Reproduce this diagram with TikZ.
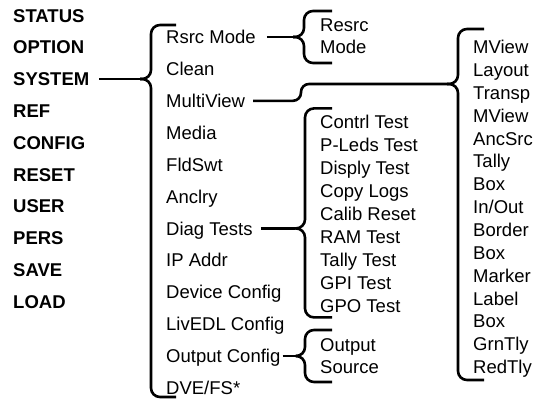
\documentclass[tikz,border=0pt]{standalone}
\usepackage{fontspec}
\setmainfont{Liberation Sans}
\usetikzlibrary{calc}
\def\menubrace[#1](#2)(#3:#4:#5:#6){\draw[#1] ($(#2)+(#6,#4)$) -- ($(#2)+(#3,#4)$) -- ($(#2)+(#3,0)$) -- (#2); \draw[#1] ($(#2)+(#6,#5)$) -- ($(#2)+(#3,#5)$) -- ($(#2)+(#3,0)$) -- (#2);}
\tikzset{
  topitem/.style={anchor=west, inner sep=0pt, text height=13.2pt, text depth=0pt, font=\fontsize{18.5}{22}\selectfont\bfseries},
  menuitem/.style={anchor=west, inner sep=0pt, text height=13.2pt, text depth=0pt, font=\fontsize{18.5}{22}\selectfont},
  link/.style={line width=2.6pt},
  brc/.style={line width=2.6pt, rounded corners=9pt}
}

\begin{document}
\begin{tikzpicture}[x=1pt, y=-1pt]
			%%%%% START %%%%%
			\useasboundingbox (0,0) rectangle (542,402);
			
			\node[topitem] (status) at (13, 15.5) {STATUS};
			\node[topitem] (option) at (13, 47.3) {OPTION};
			\node[topitem] (system) at (13, 79) {SYSTEM};
			\node[topitem] (ref) at (13, 110.8) {REF};
			\node[topitem] (config) at (13, 142.6) {CONFIG};
			\node[topitem] (reset) at (13, 174.4) {RESET};
			\node[topitem] (user) at (13, 206.2) {USER};
			\node[topitem] (pers) at (13, 238) {PERS};
			\node[topitem] (save) at (13, 269.8) {SAVE};
			\node[topitem] (load) at (13, 301.6) {LOAD};
			
			\node[menuitem] (rsrcmode) at (166, 37) {Rsrc Mode};
			\node[menuitem] (clean) at (166, 68.9) {Clean};
			\node[menuitem] (multiview) at (166, 100.8) {MultiView};
			\node[menuitem] (media) at (166, 132.7) {Media};
			\node[menuitem] (fldswt) at (166, 164.6) {FldSwt};
			\node[menuitem] (anclry) at (166, 196.5) {Anclry};
			\node[menuitem] (diagtests) at (166, 228.4) {Diag Tests};
			\node[menuitem] (ipaddr) at (166, 260.3) {IP Addr};
			\node[menuitem] (devconfig) at (166, 292.2) {Device Config};
			\node[menuitem] (livedl) at (166, 324.1) {LivEDL Config};
			\node[menuitem] (outconfig) at (166, 356) {Output Config};
			\node[menuitem] (dvefs) at (166, 387.9) {DVE/FS*};
			
			\node[menuitem] (resrc) at (320, 25) {Resrc};
			\node[menuitem] (resrcmode) at (320, 47) {Mode};
			
			\node[menuitem] (contrl) at (320, 122) {Contrl Test};
			\node[menuitem] (pleds) at (320, 145) {P-Leds Test};
			\node[menuitem] (disply) at (320, 168) {Disply Test};
			\node[menuitem] (copylogs) at (320, 191) {Copy Logs};
			\node[menuitem] (calib) at (320, 214) {Calib Reset};
			\node[menuitem] (ramtest) at (320, 237) {RAM Test};
			\node[menuitem] (tallytest) at (320, 260) {Tally Test};
			\node[menuitem] (gpitest) at (320, 283) {GPI Test};
			\node[menuitem] (gpotest) at (320, 306) {GPO Test};
			
			\node[menuitem] (output) at (320, 345) {Output};
			\node[menuitem] (source) at (320, 367) {Source};
			
			\node[menuitem] (mview) at (473, 47) {MView};
			\node[menuitem] (layout) at (473, 69.9) {Layout};
			\node[menuitem] (transp) at (473, 92.7) {Transp};
			\node[menuitem] (mview2) at (473, 115.6) {MView};
			\node[menuitem] (ancsrc) at (473, 138.4) {AncSrc};
			\node[menuitem] (tally) at (473, 161.3) {Tally};
			\node[menuitem] (box) at (473, 184.2) {Box};
			\node[menuitem] (inout) at (473, 207) {In/Out};
			\node[menuitem] (border) at (473, 229.9) {Border};
			\node[menuitem] (box2) at (473, 252.7) {Box};
			\node[menuitem] (marker) at (473, 275.6) {Marker};
			\node[menuitem] (label) at (473, 298.5) {Label};
			\node[menuitem] (box3) at (473, 321.3) {Box};
			\node[menuitem] (grntly) at (473, 344.2) {GrnTly};
			\node[menuitem] (redtly) at (473, 367) {RedTly};
			
			\coordinate (systip) at (140, 79);
			\coordinate (rsrctip) at (293, 37);
			\coordinate (mvtip) at (447, 84);
			\coordinate (diagtip) at (295, 228.4);
			\coordinate (outtip) at (297, 356);
			
			\draw[link, shorten <=10pt] (system.east) -- (systip);
			\draw[link, shorten <=11pt] (rsrcmode.east) -- (rsrctip);
			\draw[link, shorten <=8pt, rounded corners=8pt] (multiview.east) -- (301, 100.8) -- (301, 84) -- (mvtip);
			\draw[link, shorten <=8pt] (diagtests.east) -- (diagtip);
			\draw[link, shorten <=2pt] (outconfig.east) -- (outtip);
			
			\menubrace[brc](systip)(11:-54:318:36);
			\menubrace[brc](rsrctip)(11:-26:26:39);
			\menubrace[brc](mvtip)(11:-55:296:37);
			\menubrace[brc](diagtip)(10:-120:89:37);
			\menubrace[brc](outtip)(8:-26:26:35);
			
			%%%%% END %%%%%
\end{tikzpicture}
\end{document}
